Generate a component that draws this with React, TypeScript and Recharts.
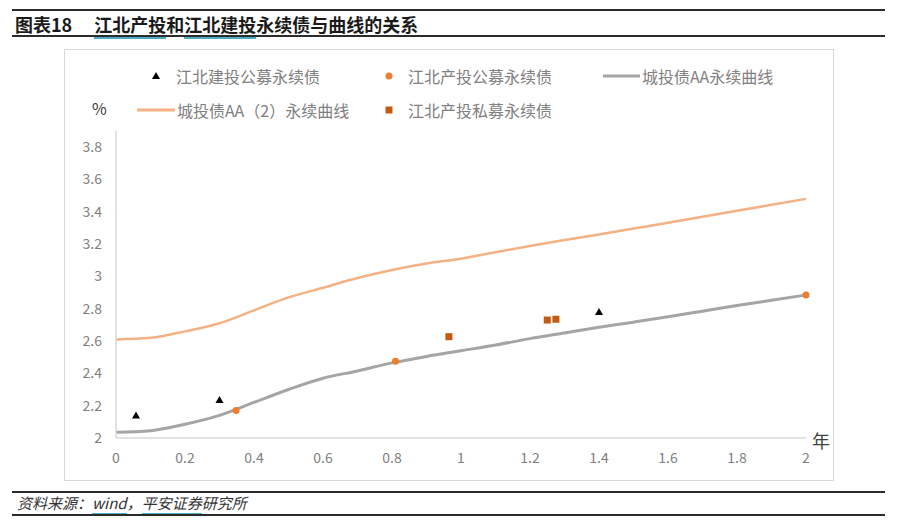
import React from 'react';
import { ComposedChart, Line, Scatter, XAxis, YAxis } from 'recharts';

// tenor (years) for both yield curves
const tenor = [0, 0.1, 0.2, 0.3, 0.4, 0.5, 0.6, 0.7, 0.8, 0.9, 1, 1.1, 1.2, 1.3, 1.4, 1.5, 1.6, 1.7, 1.8, 1.9, 2];
const curveAA = [2.035, 2.045, 2.085, 2.14, 2.22, 2.3, 2.37, 2.415, 2.465, 2.505, 2.54, 2.575, 2.615, 2.65, 2.685, 2.717, 2.75, 2.785, 2.82, 2.852, 2.885];
const curveAA2 = [2.61, 2.62, 2.66, 2.71, 2.79, 2.87, 2.93, 2.99, 3.04, 3.08, 3.11, 3.15, 3.188, 3.225, 3.26, 3.296, 3.332, 3.369, 3.406, 3.443, 3.48];

// individual bonds: remaining tenor / yield
const jbPublicX = [0.058, 0.3, 1.4];
const jbPublicY = [2.14, 2.235, 2.78];
const cpPublicX = [0.348, 0.81, 2.0];
const cpPublicY = [2.17, 2.475, 2.885];
const cpPrivateX = [0.965, 1.25, 1.275];
const cpPrivateY = [2.627, 2.73, 2.735];

const xTicks = [0, 0.2, 0.4, 0.6, 0.8, 1, 1.2, 1.4, 1.6, 1.8, 2];
const yTicks = [2, 2.2, 2.4, 2.6, 2.8, 3, 3.2, 3.4, 3.6, 3.8];

const toPoints = (xs: number[], ys: number[]) => xs.map((x, i) => ({ x, y: ys[i] }));

const aaData = toPoints(tenor, curveAA);
const aa2Data = toPoints(tenor, curveAA2);
const jbPublicData = toPoints(jbPublicX, jbPublicY);
const cpPublicData = toPoints(cpPublicX, cpPublicY);
const cpPrivateData = toPoints(cpPrivateX, cpPrivateY);

const FONT = '"Noto Sans CJK SC", "Noto Sans", sans-serif';
const ORANGE_LINE = '#f4b183';
const GRAY_LINE = '#a5a5a5';
const DOT = '#ed7d31';
const SQUARE = '#c55a11';
const TEAL = '#4bacc6';

const Triangle = (props: any) => {
  const { cx, cy } = props;
  return <polygon points={`${cx},${cy - 4} ${cx + 4},${cy + 3} ${cx - 4},${cy + 3}`} fill="#000" />;
};
const Dot = (props: any) => <circle cx={props.cx} cy={props.cy} r={3.5} fill={DOT} />;
const Square = (props: any) => (
  <rect x={props.cx - 3.5} y={props.cy - 3.5} width={7} height={7} fill={SQUARE} />
);

const legendText: React.CSSProperties = {
  position: 'absolute',
  fontSize: 16,
  color: '#808080',
  lineHeight: '20px',
  whiteSpace: 'nowrap',
};

function LegendItem({ x, y, icon, label, iconW = 10 }: { x: number; y: number; icon: React.ReactNode; label: string; iconW?: number }) {
  return (
    <>
      <svg style={{ position: 'absolute', left: x, top: y - 5 }} width={iconW} height={10}>
        {icon}
      </svg>
      <div style={{ ...legendText, left: x + iconW + (iconW > 20 ? 2 : 14), top: y - 10 }}>{label}</div>
    </>
  );
}

const rule = (top: number): React.CSSProperties => ({
  position: 'absolute',
  left: 12,
  width: 873,
  top,
  height: 2,
  background: '#2b2b2b',
});

export default function App() {
  return (
    <div
      style={{
        position: 'absolute',
        left: 0,
        top: 0,
        width: 900,
        height: 529,
        background: '#fff',
        fontFamily: FONT,
        overflow: 'hidden',
      }}
    >
      <div style={rule(9)} />
      <div style={{ position: 'absolute', left: 15, top: 12, fontSize: 18, fontWeight: 700, color: '#1a1a1a', lineHeight: '24px', whiteSpace: 'nowrap' }}>
        图表18
        <span style={{ marginLeft: 22 }}>
          <span style={{ borderBottom: `2px solid ${TEAL}` }}>江北产投</span>和
          <span style={{ borderBottom: `2px solid ${TEAL}` }}>江北建投</span>永续债与曲线的关系
        </span>
      </div>
      <div style={rule(35)} />

      <div
        style={{
          position: 'absolute',
          left: 64,
          top: 49,
          width: 768,
          height: 430,
          border: '1px solid #d9d9d9',
        }}
      />

      <LegendItem x={152} y={76} icon={<polygon points="4,1 8,8 0,8" fill="#000" />} label="江北建投公募永续债" />
      <LegendItem x={384} y={76} icon={<circle cx={5} cy={5} r={3.5} fill={DOT} />} label="江北产投公募永续债" />
      <LegendItem x={603} y={76} iconW={37} icon={<line x1={0} y1={5} x2={37} y2={5} stroke={GRAY_LINE} strokeWidth={3} />} label="城投债AA永续曲线" />
      <LegendItem x={137} y={110} iconW={38} icon={<line x1={0} y1={5} x2={38} y2={5} stroke={ORANGE_LINE} strokeWidth={3} />} label="城投债AA（2）永续曲线" />
      <LegendItem x={384} y={110} icon={<rect x={1.5} y={1.5} width={7} height={7} fill={SQUARE} />} label="江北产投私募永续债" />

      <div style={{ position: 'absolute', left: 92, top: 97, fontSize: 16, color: '#404040', lineHeight: '22px' }}>%</div>
      <div style={{ position: 'absolute', left: 812, top: 428, fontSize: 18, color: '#404040', lineHeight: '24px' }}>年</div>

      <div style={{ position: 'absolute', left: 0, top: 0 }}>
        <ComposedChart width={900} height={529} margin={{ top: 131, right: 94, bottom: 61, left: 66 }}>
          <XAxis
            dataKey="x"
            type="number"
            domain={[0, 2]}
            ticks={xTicks}
            tickLine={false}
            tickMargin={9}
            axisLine={{ stroke: '#d9d9d9', strokeWidth: 1.5 }}
            tick={{ fill: '#808080', fontSize: 14, fontFamily: FONT }}
            height={30}
            allowDuplicatedCategory={false}
          />
          <YAxis
            dataKey="y"
            type="number"
            domain={[2, 3.9]}
            ticks={yTicks}
            tickLine={false}
            tickMargin={8}
            axisLine={{ stroke: '#d9d9d9', strokeWidth: 1.5 }}
            tick={{ fill: '#808080', fontSize: 14, fontFamily: FONT }}
            tickFormatter={(v: number) => String(v)}
            width={50}
          />
          <Line data={aa2Data} dataKey="y" type="monotone" stroke={ORANGE_LINE} strokeWidth={2.5} dot={false} activeDot={false} isAnimationActive={false} />
          <Line data={aaData} dataKey="y" type="monotone" stroke={GRAY_LINE} strokeWidth={3} dot={false} activeDot={false} isAnimationActive={false} />
          <Scatter data={jbPublicData} shape={Triangle} isAnimationActive={false} />
          <Scatter data={cpPublicData} shape={Dot} isAnimationActive={false} />
          <Scatter data={cpPrivateData} shape={Square} isAnimationActive={false} />
        </ComposedChart>
      </div>

      <div style={rule(491)} />
      <div style={{ position: 'absolute', left: 17, top: 493, fontSize: 15, fontStyle: 'italic', color: '#333', lineHeight: '20px', whiteSpace: 'nowrap' }}>
        资料来源：<span style={{ borderBottom: `2px solid ${TEAL}` }}>wind</span>，
        <span style={{ borderBottom: `2px solid ${TEAL}` }}>平安证券</span>研究所
      </div>
      <div style={rule(514)} />
    </div>
  );
}
